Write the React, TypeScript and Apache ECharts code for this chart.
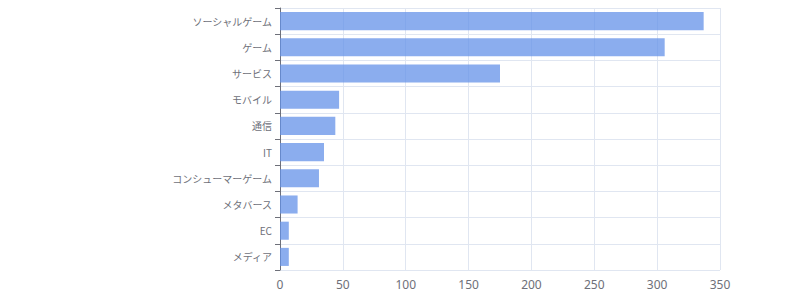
import React, { useEffect, useRef } from "react";
import * as echarts from "echarts";

const categories = [
  "ソーシャルゲーム",
  "ゲーム",
  "サービス",
  "モバイル",
  "通信",
  "IT",
  "コンシューマーゲーム",
  "メタバース",
  "EC",
  "メディア",
];
const values = [337, 306, 175, 47, 44, 35, 31, 14, 7, 7];
const xTicks = { min: 0, max: 350, interval: 50 };

export default function App() {
  const ref = useRef<HTMLDivElement>(null);
  useEffect(() => {
    document.body.style.margin = "0";
    const chart = echarts.init(ref.current!, null, { renderer: "svg" });
    chart.setOption({
      animation: false,
      textStyle: { fontFamily: "'Noto Sans', 'Noto Sans CJK JP', sans-serif" },
      grid: { left: 280, right: 80, top: 8, bottom: 30 },
      xAxis: {
        type: "value",
        min: xTicks.min,
        max: xTicks.max,
        interval: xTicks.interval,
        axisLine: { show: false },
        axisTick: { show: false },
        splitLine: { show: true, lineStyle: { color: "#E0E6F1" } },
        axisLabel: { color: "#6E7079", fontSize: 12, margin: 8 },
      },
      yAxis: {
        type: "category",
        inverse: true,
        data: categories,
        axisLine: { show: true, lineStyle: { color: "#6E7079" } },
        axisTick: { show: true, length: 5 },
        splitLine: { show: true, lineStyle: { color: "#E0E6F1" } },
        axisLabel: {
          color: "#6E7079",
          fontSize: 10,
          margin: 8,
          fontFamily: "'Noto Sans CJK JP', sans-serif",
        },
      },
      series: [
        {
          type: "bar",
          data: values,
          barCategoryGap: "31%",
          itemStyle: { color: "rgba(100,145,232,0.75)" },
        },
      ],
    });
    return () => chart.dispose();
  }, []);
  return <div ref={ref} style={{ width: 800, height: 300 }} />;
}
